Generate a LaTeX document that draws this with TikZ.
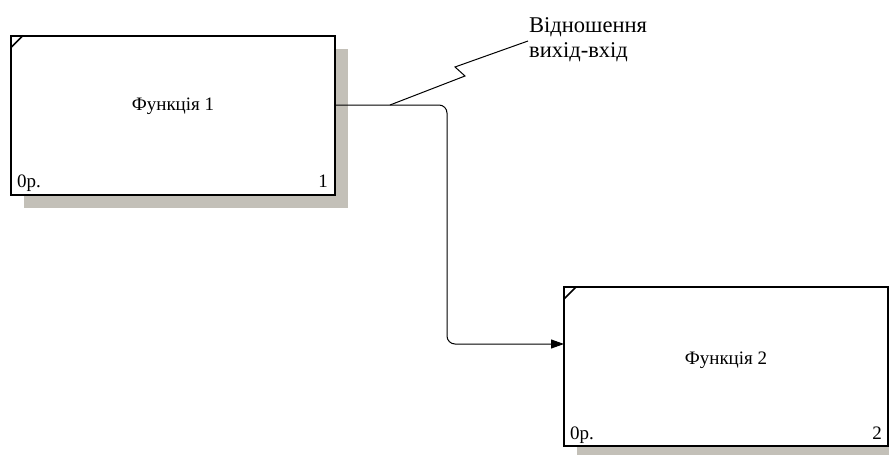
\documentclass[tikz,border=0pt]{standalone}
\usepackage{fontspec}
\setmainfont{Liberation Serif}
\usetikzlibrary{arrows.meta,positioning,shadows}

\definecolor{shadowgrey}{RGB}{195,192,184}

\begin{document}
\begin{tikzpicture}[
  x=1pt, y=-1pt,
  func/.style={draw, fill=white, line width=2pt, minimum width=324pt, minimum height=159pt,
    inner sep=0pt, outer sep=0pt,
    drop shadow={shadow xshift=13pt, shadow yshift=-13pt, fill=shadowgrey, opacity=1}},
  fname/.style={font=\fontsize{19}{22}\selectfont, inner sep=0pt},
  corner/.style={font=\fontsize{19}{22}\selectfont, inner sep=0pt},
  tick/.style={line width=1.5pt},
  arrow/.style={-{Triangle[length=13pt,width=9pt]}, line width=1pt, rounded corners=8pt},
  note/.style={font=\fontsize{22.5}{25}\selectfont, align=left, inner sep=0pt}
]
\useasboundingbox (0,0) rectangle (889,455);

\node[func] (f1) at (173,115) {};
\node[func, below right=92.5pt and 229pt of f1.south east, anchor=north west] (f2) {};

% box texts
\node[fname] (f1name) at ([yshift=8.5pt]f1.center) {Функція 1};
\node[fname] (f2name) at ([yshift=6pt]f2.center) {Функція 2};
\node[corner, anchor=base west] (f1cost) at ([shift={(6pt,7pt)}]f1.south west) {0р.};
\node[corner, anchor=base east] (f1num) at ([shift={(-7pt,7pt)}]f1.south east) {1};
\node[corner, anchor=base west] (f2cost) at ([shift={(6pt,7pt)}]f2.south west) {0р.};
\node[corner, anchor=base east] (f2num) at ([shift={(-6pt,7pt)}]f2.south east) {2};

% corner marks
\draw[tick] ([yshift=-12pt]f1.north west) -- ([xshift=12pt]f1.north west);
\draw[tick] ([yshift=-12pt]f2.north west) -- ([xshift=12pt]f2.north west);

% output of 1 -> input of 2
\coordinate (out1) at ([yshift=10pt]f1.east);
\coordinate (in2) at ([yshift=22.5pt]f2.west);
\coordinate (mid) at (447,220);
\draw[arrow] (out1) -| (mid) |- (in2);

% label squiggle
\node[note, anchor=west] (rel) at (529,40) {Відношення\\вихід-вхід};
\coordinate (tap) at ([xshift=55pt]out1);
\draw[line width=1pt] (tap) -- (465,76) -- (455,67) -- ([xshift=-1pt,yshift=-1pt]rel.west);
\end{tikzpicture}
\end{document}
